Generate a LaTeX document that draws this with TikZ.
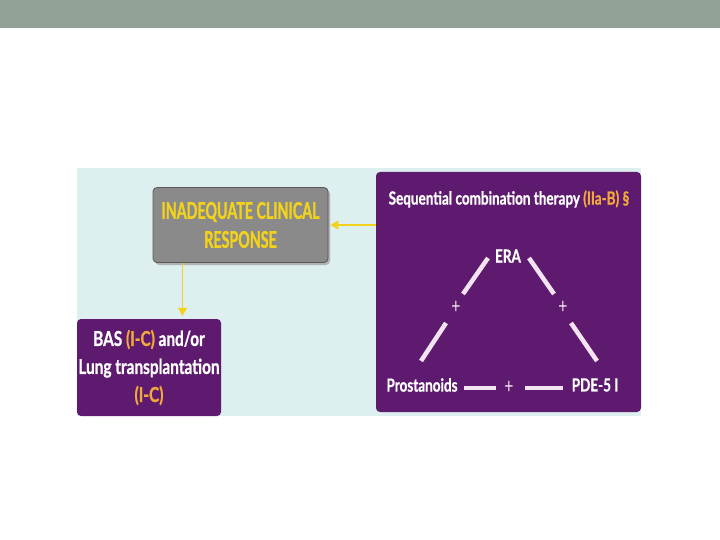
\documentclass[tikz,border=0pt]{standalone}
\usepackage{fontspec}
\setmainfont{Lato}
\newfontfamily\condA[FakeStretch=0.62, BoldFeatures={FakeBold=1.2}]{Lato}
\newfontfamily\condB[FakeStretch=0.75, BoldFeatures={FakeBold=0.8}]{Lato}
\usetikzlibrary{arrows.meta}
\definecolor{band}{HTML}{91A195}
\definecolor{panel}{HTML}{DDEFEF}
\definecolor{plum}{HTML}{5E1A6E}
\definecolor{slate}{HTML}{8A8A8A}
\definecolor{gold}{HTML}{F2D21B}
\definecolor{amber}{HTML}{F2A93B}
\definecolor{blush}{HTML}{F4E4F2}
\newcommand{\lvl}[1]{\textcolor{amber}{#1}}

\begin{document}
\begin{tikzpicture}[x=1pt, y=-1pt, >={Triangle[length=8pt,width=9pt]},
	every node/.style={font=\condB\bfseries},
	box/.style={rounded corners=4pt, inner sep=0pt, align=center},
	lbl/.style={text=white, font=\condB\bfseries\fontsize{18}{22}\selectfont},
	arr/.style={->, draw=gold, fill=gold, line width=1.4pt},
	seg/.style={draw=blush, line width=4.5pt}]
	\useasboundingbox (0,0) rectangle (720,540);
	\fill[band] (0,0) rectangle (720,28);
	\fill[panel] (77,168) rectangle (641,416);
	% boxes
	\fill[black!30, rounded corners=4pt] (155,190) rectangle (330,265);
	\node[box, fill=slate, draw=black!65, line width=0.8pt, minimum width=175pt, minimum height=75pt, text=gold, font=\condA\bfseries\fontsize{23}{29}\selectfont] (resp) at (240.5,225) {INADEQUATE CLINICAL\\RESPONSE};
	\node[box, fill=plum, minimum width=144pt, minimum height=97pt, text=white, font=\condB\bfseries\fontsize{20.5}{28}\selectfont] (bas) at (149,367.5) {BAS \lvl{(I-C)} and/or\\Lung transplantation\\\lvl{(I-C)}};
	\node[box, fill=plum, minimum width=265pt, minimum height=240pt] (seq) at (508.5,292) {};
	\node[lbl] (title) at (509,199) {Sequential combination therapy \lvl{(IIa-B) §}};
	% triangle
	\node[lbl] (era) at (508,256) {ERA};
	\node[lbl] (pro) at (422,385) {Prostanoids};
	\node[lbl] (pde) at (595,385) {PDE-5 I};
	\foreach \n/\x/\y in {pl/456/307, pr/563/307, pb/509/387}
		\node[text=blush, font=\condB\fontsize{21}{22}\selectfont] (\n) at (\x,\y) {+};
	\coordinate (a1) at (488,258); \coordinate (a2) at (463,294);
	\coordinate (b1) at (446,323); \coordinate (b2) at (421,361);
	\coordinate (c1) at (529,258); \coordinate (c2) at (554,294);
	\coordinate (d1) at (571,323); \coordinate (d2) at (597,361);
	\coordinate (e1) at (464,388); \coordinate (e2) at (496,388);
	\coordinate (f1) at (525,388); \coordinate (f2) at (563,388);
	\foreach \s in {a,b,c,d,e,f}
		\draw[seg] (\s1) -- (\s2);
	% arrows
	\draw[arr] (resp.east -| seq.west) -- ([xshift=2pt]resp.east);
	\draw[arr, shorten >=3pt] ([xshift=-58pt]resp.south) -- ([xshift=-58pt]resp.south |- bas.north);
\end{tikzpicture}
\end{document}
